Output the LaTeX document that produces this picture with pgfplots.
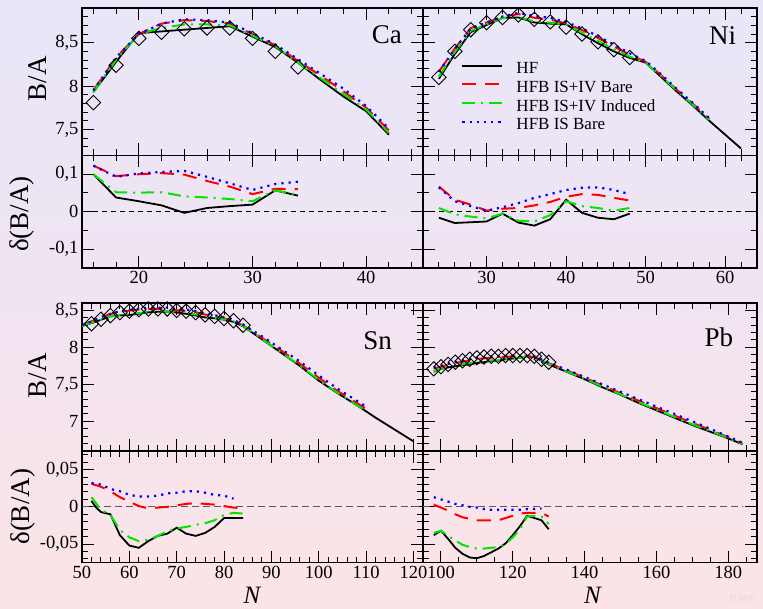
\documentclass[border=0pt]{standalone}
\usepackage{fontspec}
\setmainfont{Liberation Serif}
\usepackage{pgfplots}
\pgfplotsset{compat=1.18}

\definecolor{bgtop}{RGB}{232,230,248}
\definecolor{bgmid}{RGB}{241,228,241}
\definecolor{bgbot}{RGB}{252,228,230}
\definecolor{grn}{RGB}{0,230,0}

\tikzset{nuc/.style={anchor=base, font=\fontsize{27}{27}\selectfont}}
\pgfplotsset{
  panel/.style={scale only axis, anchor=south west,
    axis line style={line width=1.5pt},
    tick align=inside, major tick length=12pt, minor tick length=6pt,
    every tick/.style={black, line width=1pt},
    scaled ticks=false,
    tick label style={font=\fontsize{18.5}{18.5}\selectfont},
    /pgf/number format/fixed,
    /pgf/number format/precision=2,
    /pgf/number format/assume math mode=true,
    /pgf/number format/use comma,
    every axis y label/.style={rotate=90, anchor=center, font=\fontsize{27}{27}\selectfont},
    every axis x label/.style={anchor=center, inner sep=0pt, font=\fontsize{25}{25}\selectfont}},
  hf/.style={black, line width=1.8pt},
  isivb/.style={red, line width=2pt, dash pattern=on 14pt off 9pt},
  isivi/.style={grn, line width=2pt, dash pattern=on 13pt off 6pt on 2pt off 6pt},
  isb/.style={blue, line width=2.2pt, dash pattern=on 2.2pt off 5pt},
  expt/.style={only marks, mark=square, mark size=5.1pt,
    mark options={rotate=45, line width=0.9pt, black, fill=none, solid}},
  zero/.style={black, line width=0.8pt, dash pattern=on 5pt off 4pt},
  zero2/.style={black!65, line width=1.1pt, dash pattern=on 7pt off 4pt},
}

\begin{document}
\begin{tikzpicture}
\useasboundingbox (0,0) rectangle (763pt,608pt);
\shade[top color=bgtop, bottom color=bgbot, middle color=bgmid] (0,0) rectangle (763pt,608pt);
\node[anchor=base west, text=black!15, font=\fontsize{9}{9}\selectfont, inner sep=0pt] at (729pt,7pt) {POWE};

% ---------- Ca ----------
\begin{axis}[panel, at={(82pt,452.5pt)}, width=341pt, height=147.5pt,
  xmin=15, xmax=45, ymin=7.2, ymax=8.9,
  xtick={20,30,40}, minor xtick={16,18,...,44}, xticklabels={},
  ytick={7.5,8,8.5}, minor ytick={7.3,7.4,...,8.85},
  ylabel={B/A}, ylabel style={at={(axis description cs:-0.13,0.52)}}]
\addplot[expt] coordinates {(16,7.81)(18,8.24)(20,8.55)(22,8.62)(24,8.66)(26,8.67)(28,8.67)(30,8.55)(32,8.40)(34,8.22)};
\addplot[hf] coordinates {(16,7.93)(18,8.28)(20,8.61)(22,8.63)(24,8.65)(26,8.67)(28,8.69)(30,8.57)(32,8.45)(34,8.27)(36,8.07)(38,7.88)(40,7.71)(42,7.44)};
\addplot[isivb] coordinates {(16,7.95)(18,8.33)(20,8.60)(22,8.72)(24,8.76)(26,8.75)(28,8.72)(30,8.60)(32,8.47)(34,8.29)(36,8.12)(38,7.94)(40,7.75)(42,7.49)};
\addplot[isivi] coordinates {(16,7.93)(18,8.30)(20,8.60)(22,8.67)(24,8.71)(26,8.71)(28,8.70)(30,8.58)(32,8.46)(34,8.27)(36,8.09)(38,7.91)(40,7.73)(42,7.46)};
\addplot[isb] coordinates {(16,7.95)(18,8.33)(20,8.60)(22,8.72)(24,8.77)(26,8.76)(28,8.73)(30,8.61)(32,8.48)(34,8.31)(36,8.14)(38,7.97)(40,7.77)(42,7.51)};
\node[nuc] at (rel axis cs:0.894,0.756) {Ca};
\end{axis}

\begin{axis}[panel, at={(82pt,340pt)}, width=341pt, height=112.5pt,
  xmin=15, xmax=45, ymin=-0.15, ymax=0.15,
  xtick={20,30,40}, minor xtick={16,18,...,44},
  ytick={-0.1,0,0.1}, minor ytick={-0.05,0.05},
  ylabel={δ(B/A)}, ylabel style={at={(axis description cs:-0.176,0.48)}}]
\addplot[zero] coordinates {(16,0)(42,0)};
\addplot[hf] coordinates {(16,0.1)(18,0.038)(20,0.028)(22,0.017)(24,-0.003)(26,0.010)(28,0.015)(30,0.019)(32,0.057)(34,0.043)};
\addplot[isivb] coordinates {(16,0.123)(18,0.095)(20,0.1)(22,0.103)(24,0.099)(26,0.082)(28,0.067)(30,0.047)(32,0.061)(34,0.06)};
\addplot[isivi] coordinates {(16,0.1)(18,0.052)(20,0.051)(22,0.052)(24,0.041)(26,0.038)(28,0.034)(30,0.028)(32,0.057)(34,0.045)};
\addplot[isb] coordinates {(16,0.123)(18,0.093)(20,0.102)(22,0.106)(24,0.109)(26,0.093)(28,0.076)(30,0.058)(32,0.074)(34,0.08)};
\end{axis}

% ---------- Ni ----------
\begin{axis}[panel, at={(423pt,452.5pt)}, width=334pt, height=147.5pt,
  xmin=22, xmax=64, ymin=7.2, ymax=8.9,
  xtick={30,40,50,60}, minor xtick={22,24,...,64}, xticklabels={},
  ytick={7.5,8,8.5}, minor ytick={7.3,7.4,...,8.85}, yticklabels={},
  legend style={at={(axis description cs:0.114,0.637)}, anchor=north west,
    draw=none, fill=none, inner sep=0pt, row sep=2.7pt,
    font=\fontsize{17}{17}\selectfont,
    nodes={inner sep=0pt, text height=12pt, text depth=4pt},
    /tikz/every odd column/.append style={column sep=13pt}},
  legend cell align=left,
  legend image code/.code={\draw[#1] (0pt,4pt) -- (40pt,4pt);}]
\addplot[expt, forget plot] coordinates {(24,8.10)(26,8.40)(28,8.65)(30,8.73)(32,8.79)(34,8.82)(36,8.77)(38,8.74)(40,8.68)(42,8.60)(44,8.51)(46,8.42)(48,8.33)};
\addplot[hf] coordinates {(24,8.084)(26,8.37)(28,8.622)(30,8.704)(32,8.785)(34,8.791)(36,8.733)(38,8.72)(40,8.712)(42,8.597)(44,8.494)(46,8.40)(48,8.325)(50,8.27)(52,8.10)(54,7.93)(56,7.77)(58,7.60)(60,7.44)(62,7.28)};
\addplot[isivb] coordinates {(24,8.167)(26,8.432)(28,8.669)(30,8.733)(32,8.798)(34,8.83)(36,8.787)(38,8.766)(40,8.72)(42,8.647)(44,8.555)(46,8.457)(48,8.36)(50,8.28)(52,8.12)(54,7.95)(56,7.79)(58,7.62)};
\addplot[isivi] coordinates {(24,8.11)(26,8.393)(28,8.637)(30,8.712)(32,8.785)(34,8.796)(36,8.744)(38,8.731)(40,8.708)(42,8.615)(44,8.52)(46,8.423)(48,8.34)(50,8.27)(52,8.11)(54,7.94)(56,7.78)(58,7.61)};
\addplot[isb] coordinates {(24,8.165)(26,8.428)(28,8.665)(30,8.733)(32,8.802)(34,8.843)(36,8.807)(38,8.787)(40,8.738)(42,8.664)(44,8.575)(46,8.478)(48,8.377)(50,8.29)(52,8.13)(54,7.96)(56,7.80)(58,7.63)};
\legend{HF, HFB IS+IV Bare, HFB IS+IV Induced, HFB IS Bare}
\node[nuc] at (rel axis cs:0.897,0.75) {Ni};
\end{axis}

\begin{axis}[panel, at={(423pt,340pt)}, width=334pt, height=112.5pt,
  xmin=22, xmax=64, ymin=-0.15, ymax=0.15,
  xtick={30,40,50,60}, minor xtick={22,24,...,64},
  ytick={-0.1,0,0.1}, minor ytick={-0.05,0.05}, yticklabels={}]
\addplot[zero] coordinates {(24,0)(62,0)};
\addplot[hf] coordinates {(24,-0.016)(26,-0.030)(28,-0.028)(30,-0.026)(32,-0.005)(34,-0.029)(36,-0.037)(38,-0.020)(40,0.032)(42,-0.003)(44,-0.016)(46,-0.020)(48,-0.005)};
\addplot[isivb] coordinates {(24,0.067)(26,0.032)(28,0.019)(30,0.003)(32,0.008)(34,0.010)(36,0.017)(38,0.026)(40,0.040)(42,0.047)(44,0.045)(46,0.037)(48,0.030)};
\addplot[isivi] coordinates {(24,0.010)(26,-0.007)(28,-0.013)(30,-0.018)(32,-0.005)(34,-0.024)(36,-0.026)(38,-0.009)(40,0.028)(42,0.015)(44,0.010)(46,0.003)(48,0.010)};
\addplot[isb] coordinates {(24,0.065)(26,0.028)(28,0.015)(30,0.003)(32,0.012)(34,0.023)(36,0.037)(38,0.047)(40,0.058)(42,0.064)(44,0.065)(46,0.058)(48,0.047)};
\end{axis}

% ---------- Sn ----------
\begin{axis}[panel, at={(82pt,157pt)}, width=341pt, height=148pt,
  xmin=50, xmax=122, ymin=6.6, ymax=8.6,
  xtick={50,60,...,120}, minor xtick={50,52,...,122}, xticklabels={},
  ytick={7,7.5,8,8.5}, minor ytick={6.7,6.8,...,8.55},
  ylabel={B/A}, ylabel style={at={(axis description cs:-0.13,0.51)}}]
\addplot[expt] coordinates {(52,8.32)(54,8.38)(56,8.43)(58,8.47)(60,8.49)(62,8.51)(64,8.52)(66,8.52)(68,8.52)(70,8.50)(72,8.49)(74,8.47)(76,8.44)(78,8.42)(80,8.39)(82,8.36)(84,8.30)};
\addplot[hf] coordinates {(50,8.29)(52,8.328)(54,8.373)(56,8.42)(58,8.432)(60,8.438)(62,8.455)(64,8.474)(66,8.481)(68,8.484)(70,8.472)(72,8.454)(74,8.431)(76,8.405)(78,8.393)(80,8.375)(82,8.345)(84,8.285)(88,8.11)(92,7.93)(96,7.75)(100,7.55)(104,7.38)(108,7.22)(112,7.05)(116,6.89)(120,6.73)};
\addplot[isivb] coordinates {(50,8.30)(52,8.351)(54,8.407)(56,8.451)(58,8.483)(60,8.497)(62,8.511)(64,8.518)(66,8.519)(68,8.52)(70,8.502)(72,8.494)(74,8.475)(76,8.444)(78,8.423)(80,8.391)(82,8.359)(84,8.298)(88,8.13)(92,7.96)(96,7.78)(100,7.59)(104,7.41)(108,7.25)(110,7.17)};
\addplot[isivi] coordinates {(50,8.29)(52,8.333)(54,8.376)(56,8.419)(58,8.439)(60,8.449)(62,8.464)(64,8.476)(66,8.481)(68,8.487)(70,8.471)(72,8.463)(74,8.446)(76,8.418)(78,8.402)(80,8.379)(82,8.352)(84,8.291)(88,8.115)(92,7.935)(96,7.755)(100,7.56)(104,7.385)(108,7.22)(110,7.135)};
\addplot[isb] coordinates {(50,8.30)(52,8.352)(54,8.41)(56,8.454)(58,8.491)(60,8.506)(62,8.524)(64,8.534)(66,8.535)(68,8.538)(70,8.519)(72,8.511)(74,8.491)(76,8.459)(78,8.436)(80,8.405)(82,8.371)(84,8.31)(88,8.15)(92,7.98)(96,7.81)(100,7.62)(104,7.44)(108,7.28)(110,7.20)};
\node[nuc] at (rel axis cs:0.867,0.684) {Sn};
\end{axis}

\begin{axis}[panel, at={(82pt,45.3pt)}, width=341pt, height=111.7pt,
  xmin=50, xmax=122, ymin=-0.075, ymax=0.075,
  xtick={50,60,...,120}, minor xtick={50,52,...,122},
  ytick={-0.05,0,0.05}, minor ytick={-0.07,-0.06,...,0.075},
  ylabel={δ(B/A)}, ylabel style={at={(axis description cs:-0.174,0.50)}},
  xlabel={\textit{N}}, xlabel style={at={(axis description cs:0.5,-0.29)}}]
\addplot[zero2] coordinates {(50,0)(122,0)};
\addplot[hf] coordinates {(52,0.008)(53,-0.001)(54,-0.007)(56,-0.010)(58,-0.038)(60,-0.052)(62,-0.055)(64,-0.046)(66,-0.039)(68,-0.036)(70,-0.028)(72,-0.036)(74,-0.039)(76,-0.035)(78,-0.027)(80,-0.015)(82,-0.015)(84,-0.015)};
\addplot[isivb] coordinates {(52,0.031)(54,0.027)(56,0.021)(58,0.013)(60,0.007)(62,0.001)(64,-0.002)(66,-0.001)(68,0)(70,0.002)(72,0.004)(74,0.005)(76,0.004)(78,0.003)(80,0.001)(82,-0.001)(84,-0.002)};
\addplot[isivi] coordinates {(52,0.013)(54,-0.004)(56,-0.011)(58,-0.031)(60,-0.041)(62,-0.046)(64,-0.044)(66,-0.039)(68,-0.033)(70,-0.029)(72,-0.027)(74,-0.024)(76,-0.022)(78,-0.018)(80,-0.011)(82,-0.008)(84,-0.009)};
\addplot[isb] coordinates {(52,0.032)(54,0.030)(56,0.024)(58,0.021)(60,0.016)(62,0.014)(64,0.014)(66,0.015)(68,0.018)(70,0.019)(72,0.021)(74,0.021)(76,0.019)(78,0.016)(80,0.015)(82,0.011)};
\end{axis}

% ---------- Pb ----------
\begin{axis}[panel, at={(423pt,157pt)}, width=334pt, height=148pt,
  xmin=95, xmax=188, ymin=6.6, ymax=8.6,
  xtick={100,120,...,180}, minor xtick={95,100,...,185}, xticklabels={},
  ytick={7,7.5,8,8.5}, minor ytick={6.7,6.8,...,8.55}, yticklabels={}]
\addplot[expt] coordinates {(98,7.71)(100,7.74)(102,7.77)(104,7.80)(106,7.82)(108,7.84)(110,7.86)(112,7.87)(114,7.88)(116,7.88)(118,7.89)(120,7.89)(122,7.89)(124,7.89)(126,7.88)(128,7.84)(130,7.80)};
\addplot[hf] coordinates {(98,7.67)(100,7.71)(102,7.73)(104,7.745)(106,7.76)(108,7.77)(110,7.79)(112,7.80)(114,7.82)(116,7.82)(118,7.84)(120,7.85)(122,7.86)(124,7.88)(126,7.865)(128,7.82)(130,7.77)(135,7.67)(140,7.57)(145,7.46)(150,7.36)(155,7.25)(160,7.15)(165,7.05)(170,6.95)(175,6.86)(180,6.77)(184,6.69)};
\addplot[isivb] coordinates {(98,7.713)(100,7.739)(102,7.765)(104,7.79)(106,7.806)(108,7.824)(110,7.842)(112,7.852)(114,7.862)(116,7.862)(118,7.875)(120,7.878)(122,7.881)(124,7.882)(126,7.872)(128,7.832)(130,7.787)(135,7.69)(140,7.59)(145,7.485)(150,7.38)(155,7.28)(160,7.18)(165,7.08)(170,6.98)(175,6.885)(180,6.785)(184,6.70)};
\addplot[isivi] coordinates {(98,7.675)(100,7.71)(102,7.73)(104,7.755)(106,7.77)(108,7.786)(110,7.80)(112,7.81)(114,7.825)(116,7.826)(118,7.84)(120,7.85)(122,7.86)(124,7.877)(126,7.868)(128,7.827)(130,7.777)(135,7.675)(140,7.575)(145,7.47)(150,7.365)(155,7.26)(160,7.16)(165,7.06)(170,6.96)(175,6.87)(180,6.775)(184,6.695)};
\addplot[isb] coordinates {(98,7.723)(100,7.75)(102,7.777)(104,7.804)(106,7.822)(108,7.84)(110,7.859)(112,7.867)(114,7.876)(116,7.876)(118,7.886)(120,7.886)(122,7.886)(124,7.887)(126,7.877)(128,7.838)(130,7.79)(135,7.70)(140,7.60)(145,7.50)(150,7.40)(155,7.30)(160,7.20)(165,7.10)(170,7.00)(175,6.90)(180,6.795)(184,6.71)};
\node[nuc] at (rel axis cs:0.886,0.706) {Pb};
\end{axis}

\begin{axis}[panel, at={(423pt,45.3pt)}, width=334pt, height=111.7pt,
  xmin=95, xmax=188, ymin=-0.075, ymax=0.075,
  xtick={100,120,...,180}, minor xtick={95,100,...,185},
  ytick={-0.05,0,0.05}, minor ytick={-0.07,-0.06,...,0.075}, yticklabels={},
  xlabel={\textit{N}}, xlabel style={at={(axis description cs:0.509,-0.29)}}]
\addplot[zero2] coordinates {(95,0)(184,0)};
\addplot[hf] coordinates {(98,-0.038)(100,-0.032)(102,-0.043)(104,-0.055)(106,-0.063)(108,-0.068)(110,-0.069)(112,-0.066)(114,-0.061)(116,-0.056)(118,-0.049)(120,-0.038)(122,-0.026)(124,-0.012)(126,-0.015)(128,-0.018)(130,-0.030)};
\addplot[isivb] coordinates {(98,0.003)(100,-0.001)(102,-0.005)(104,-0.010)(106,-0.014)(108,-0.016)(110,-0.018)(112,-0.018)(114,-0.018)(116,-0.018)(118,-0.015)(120,-0.012)(122,-0.009)(124,-0.008)(126,-0.008)(128,-0.008)(130,-0.013)};
\addplot[isivi] coordinates {(98,-0.035)(100,-0.032)(102,-0.039)(104,-0.045)(106,-0.051)(108,-0.054)(110,-0.056)(112,-0.056)(114,-0.055)(116,-0.054)(118,-0.050)(120,-0.041)(122,-0.030)(124,-0.013)(126,-0.012)(128,-0.013)(130,-0.023)};
\addplot[isb] coordinates {(98,0.013)(100,0.010)(102,0.007)(104,0.004)(106,0.002)(108,0)(110,-0.001)(112,-0.003)(114,-0.004)(116,-0.004)(118,-0.004)(120,-0.004)(122,-0.004)(124,-0.003)(126,-0.003)(128,-0.002)};
\end{axis}
\end{tikzpicture}
\end{document}
